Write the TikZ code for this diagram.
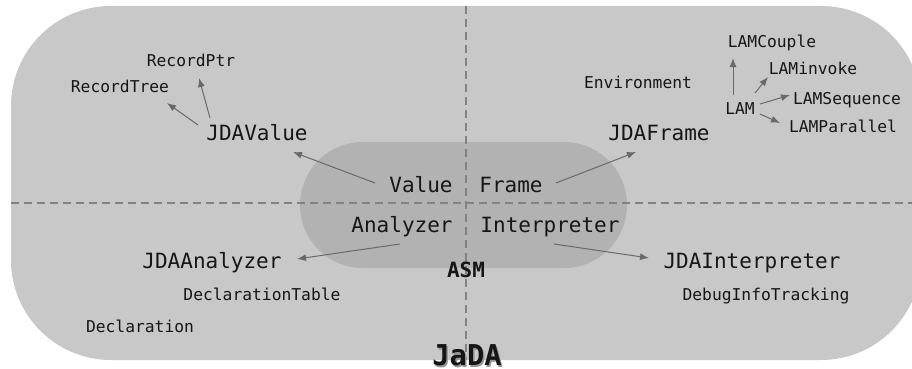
\documentclass[tikz,border=0pt]{standalone}
\usepackage{fontspec}
\setmonofont{DejaVu Sans Mono}
\usetikzlibrary{arrows.meta}
\definecolor{outerfill}{RGB}{200,200,200}
\definecolor{innerfill}{RGB}{178,178,178}
\definecolor{linegray}{RGB}{130,130,130}
\definecolor{arrowgray}{RGB}{105,105,105}
\definecolor{txt}{RGB}{22,22,22}
\definecolor{shadowgray}{RGB}{150,150,150}
\begin{document}
\begin{tikzpicture}[x=1pt,y=-1pt,
  big/.style={font=\ttfamily\fontsize{21}{21}\selectfont, text=txt, inner sep=0pt, text height=15.3pt, text depth=0pt},
  small/.style={font=\ttfamily\fontsize{16.3}{16}\selectfont, text=txt, inner sep=0pt, text height=11.9pt, text depth=0pt},
  boldlabel/.style={font=\ttfamily\bfseries\fontsize{21}{21}\selectfont, text=txt, inner sep=0pt, text height=15.3pt, text depth=0pt},
  titlelabel/.style={font=\ttfamily\bfseries\fontsize{28.7}{29}\selectfont, text=txt, inner sep=0pt, text height=21pt, text depth=0pt},
  divider/.style={draw=linegray, line width=1.3pt, dash pattern=on 8pt off 5pt},
  arr/.style={draw=arrowgray, line width=1pt, -{Latex[length=9pt,width=7pt]}}
]
\useasboundingbox (0,0) rectangle (912,369);
\fill[white] (0,0) rectangle (912,369);
% outer region
\begin{scope}
  \clip (0,0) rectangle (912,369);
  \fill[outerfill, rounded corners=100pt] (11,6) rectangle (921,360);
\end{scope}
% inner ASM region
\fill[innerfill, rounded corners=63pt] (300,142) rectangle (627,268);
% dividers
\draw[divider] (466,6) -- (466,360);
\draw[divider] (11,203) -- (912,203);

% nodes
\node[small] (RecordPtr) at (191,61) {RecordPtr};
\node[small] (RecordTree) at (120,87) {RecordTree};
\node[big] (JDAValue) at (257,133) {JDAValue};
\node[small] (Environment) at (638,83) {Environment};
\node[small] (LAMCouple) at (772,42) {LAMCouple};
\node[small] (LAMinvoke) at (813,69) {LAMinvoke};
\node[small] (LAM) at (740,109) {LAM};
\node[small] (LAMSequence) at (847,99) {LAMSequence};
\node[small] (LAMParallel) at (843,127) {LAMParallel};
\node[big] (JDAFrame) at (659,133) {JDAFrame};
\node[big] (Value) at (421,185) {Value};
\node[big] (Frame) at (511,185) {Frame};
\node[big] (Analyzer) at (402,225) {Analyzer};
\node[big] (Interpreter) at (550,225) {Interpreter};
\node[boldlabel] (ASM) at (466,270) {ASM};
\node[big] (JDAAnalyzer) at (212,261) {JDAAnalyzer};
\node[small] (DeclarationTable) at (262,295) {DeclarationTable};
\node[small] (Declaration) at (140,327) {Declaration};
\node[big] (JDAInterpreter) at (752,261) {JDAInterpreter};
\node[small] (DebugInfoTracking) at (766,295) {DebugInfoTracking};
\node[titlelabel] (JaDA) at (467,355) {\rlap{\raisebox{-1.5pt}{\kern1.5pt\textcolor{shadowgray}{JaDA}}}JaDA};

% connectors
\draw[arr] ([shift={(-46,-2)}]Value.center) -- ([shift={(36,19)}]JDAValue.center);
\draw[arr] ([shift={(-59,-8)}]JDAValue.center) -- ([shift={(47,16)}]RecordTree.center);
\draw[arr] ([shift={(-47,-15)}]JDAValue.center) -- ([shift={(8,17)}]RecordPtr.center);
\draw[arr] ([shift={(45,-2)}]Frame.center) -- ([shift={(-23,19)}]JDAFrame.center);
\draw[arr] ([shift={(-7,-14)}]LAM.center) -- ([shift={(-39,16)}]LAMCouple.center);
\draw[arr] ([shift={(15,-16)}]LAM.center) -- ([shift={(-45,8)}]LAMinvoke.center);
\draw[arr] ([shift={(20,-5)}]LAM.center) -- ([shift={(-57,-4)}]LAMSequence.center);
\draw[arr] ([shift={(20,5)}]LAM.center) -- ([shift={(-63,-4)}]LAMParallel.center);
\draw[arr] ([shift={(-2,19)}]Analyzer.center) -- ([shift={(85,-2)}]JDAAnalyzer.center);
\draw[arr] ([shift={(4,19)}]Interpreter.center) -- ([shift={(-103,-3)}]JDAInterpreter.center);
\end{tikzpicture}
\end{document}
